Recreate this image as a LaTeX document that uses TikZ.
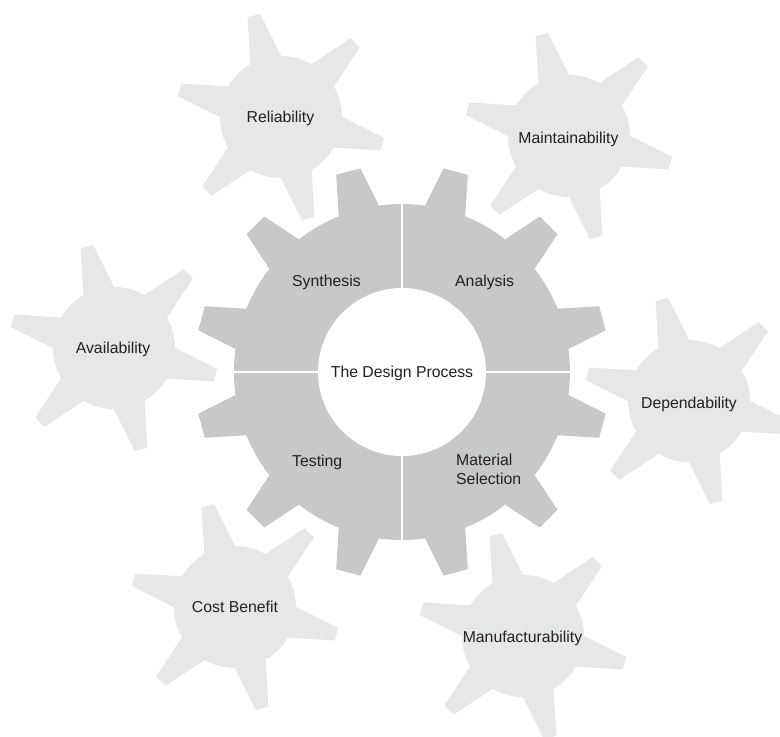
\documentclass[tikz,border=0pt]{standalone}
\usepackage{fontspec}
\setmainfont{Liberation Sans}
\definecolor{biggear}{HTML}{C7C8CA}
\definecolor{smallgear}{HTML}{E6E7E8}
\definecolor{txt}{HTML}{231F20}
\tikzset{
  lbl/.style={text=txt, font=\fontsize{15.8}{19}\selectfont, inner sep=0pt},
  smallfill/.style={fill=smallgear, draw=none},
  bigfill/.style={fill=biggear, draw=none},
  divider/.style={draw=white, line width=2.7pt}
}
\begin{document}
\begin{tikzpicture}[x=1pt,y=-1pt]
\useasboundingbox (0,0) rectangle (780,737);
% small gears
\foreach \cx/\cy in {281/117, 569/136, 114/348, 689/401, 235/607, 523/636}{
  \begin{scope}[shift={(\cx,\cy)}]
    \path[smallfill] (0,0) circle[radius=61];
    \foreach \a in {45,105,...,345}
      \path[smallfill,rotate=\a] (50,-17.75) -- (105,-6.5) -- (105,6.5) -- (50,17.75) -- cycle;
  \end{scope}
}
% central gear
\begin{scope}[shift={(402,372)}]
  \path[bigfill] (0,0) circle[radius=168];
  \foreach \a in {15,45,...,345}
    \path[bigfill,rotate=\a] (160,-22.2) -- (207.5,-12.5) -- (207.5,12.5) -- (160,22.2) -- cycle;
  \path[divider] (0,-169) -- (0,169);
  \path[divider] (-169,0) -- (169,0);
  \fill[white] (0,0) circle[radius=84];
\end{scope}
% labels
\node[lbl, anchor=base] (design) at (402,377.5) {The Design Process};
\node[lbl, anchor=base west] (synthesis) at (292,286.5) {Synthesis};
\node[lbl, anchor=base west] (analysis) at (455,286.5) {Analysis};
\node[lbl, anchor=base west] (testing) at (292,466.5) {Testing};
\node[lbl, anchor=west, align=left] (material) at (456,469.4) {Material\\Selection};
\node[lbl, anchor=base] (reliability) at (280.5,122.5) {Reliability};
\node[lbl, anchor=base] (maintainability) at (568.5,143.5) {Maintainability};
\node[lbl, anchor=base] (availability) at (113,353.5) {Availability};
\node[lbl, anchor=base] (dependability) at (689,408.5) {Dependability};
\node[lbl, anchor=base] (costbenefit) at (235,612.5) {Cost Benefit};
\node[lbl, anchor=base] (manufacturability) at (522.5,642.5) {Manufacturability};
\end{tikzpicture}
\end{document}
